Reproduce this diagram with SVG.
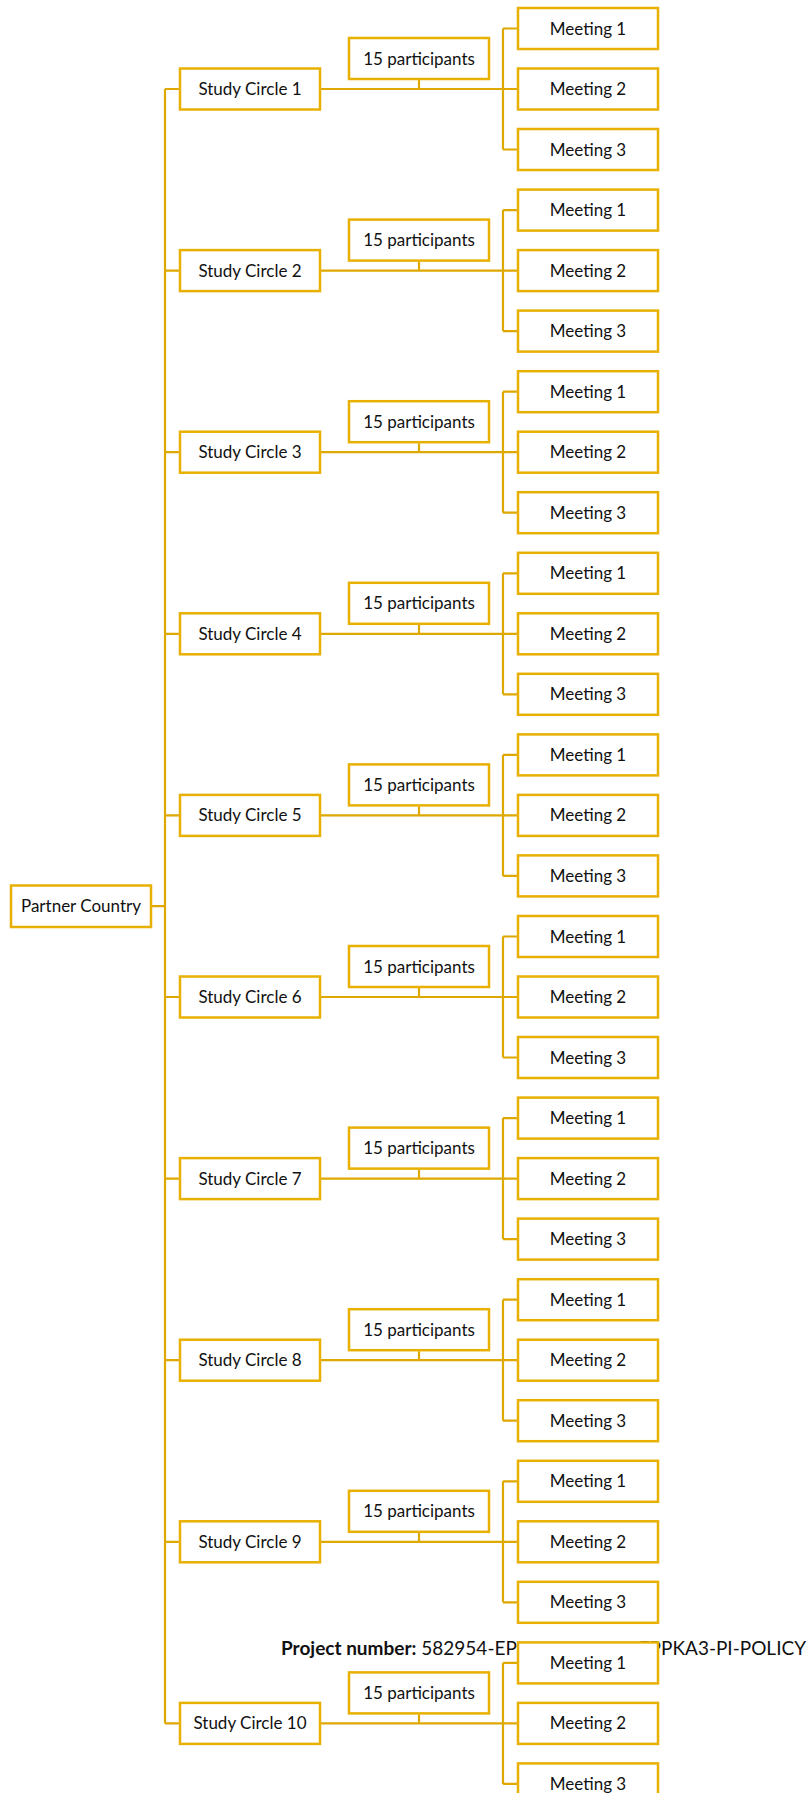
<svg xmlns="http://www.w3.org/2000/svg" width="809" height="1793" viewBox="0 0 809 1793">
<style>
.box{fill:#fff;stroke:#E8B000;stroke-width:2.5}
.con{fill:none;stroke:#DEA800;stroke-width:2.2}
.t{font-family:Lato,"Open Sans",sans-serif;font-size:17px;fill:#111;text-anchor:middle}
.p{font-family:Lato,"Open Sans",sans-serif;font-size:19px;fill:#111}
</style>
<rect width="809" height="1793" fill="#fff"/>
<text class="p" x="281" y="1655"><tspan font-weight="bold">Project number:</tspan> 582954-EP</text>
<text class="p" x="806" y="1655" text-anchor="end">EPPKA3-PI-POLICY</text>
<g id="connectors">
<path class="con" d="M151 906.2H165M165 89V1723.4"/>
<path class="con" transform="translate(0,89)" d="M165 0H180M321 0H503M419 -9V0M503 -60.5V60.5M503 -60.5H518M503 0H518M503 60.5H518"/>
<path class="con" transform="translate(0,270.6)" d="M165 0H180M321 0H503M419 -9V0M503 -60.5V60.5M503 -60.5H518M503 0H518M503 60.5H518"/>
<path class="con" transform="translate(0,452.2)" d="M165 0H180M321 0H503M419 -9V0M503 -60.5V60.5M503 -60.5H518M503 0H518M503 60.5H518"/>
<path class="con" transform="translate(0,633.8)" d="M165 0H180M321 0H503M419 -9V0M503 -60.5V60.5M503 -60.5H518M503 0H518M503 60.5H518"/>
<path class="con" transform="translate(0,815.4)" d="M165 0H180M321 0H503M419 -9V0M503 -60.5V60.5M503 -60.5H518M503 0H518M503 60.5H518"/>
<path class="con" transform="translate(0,997)" d="M165 0H180M321 0H503M419 -9V0M503 -60.5V60.5M503 -60.5H518M503 0H518M503 60.5H518"/>
<path class="con" transform="translate(0,1178.6)" d="M165 0H180M321 0H503M419 -9V0M503 -60.5V60.5M503 -60.5H518M503 0H518M503 60.5H518"/>
<path class="con" transform="translate(0,1360.2)" d="M165 0H180M321 0H503M419 -9V0M503 -60.5V60.5M503 -60.5H518M503 0H518M503 60.5H518"/>
<path class="con" transform="translate(0,1541.8)" d="M165 0H180M321 0H503M419 -9V0M503 -60.5V60.5M503 -60.5H518M503 0H518M503 60.5H518"/>
<path class="con" transform="translate(0,1723.4)" d="M165 0H180M321 0H503M419 -9V0M503 -60.5V60.5M503 -60.5H518M503 0H518M503 60.5H518"/>
</g>
<g id="partner"><rect class="box" x="11" y="885.5" width="140" height="41.5"/><text class="t" x="81" y="912.3">Partner Country</text></g>

<g transform="translate(0,89)">
<g id="sc1"><rect class="box" x="180" y="-20.5" width="140" height="41"/><text class="t" x="250" y="6">Study Circle 1</text></g>
<g id="p1"><rect class="box" x="349" y="-51" width="140" height="41"/><text class="t" x="419" y="-24.5">15 participants</text></g>
<g id="m1-1"><rect class="box" x="518" y="-81" width="140" height="41"/><text class="t" x="588" y="-54.5">Meeting 1</text></g>
<g id="m1-2"><rect class="box" x="518" y="-20.5" width="140" height="41"/><text class="t" x="588" y="6">Meeting 2</text></g>
<g id="m1-3"><rect class="box" x="518" y="40" width="140" height="41"/><text class="t" x="588" y="66.5">Meeting 3</text></g>
</g>
<g transform="translate(0,270.6)">
<g id="sc2"><rect class="box" x="180" y="-20.5" width="140" height="41"/><text class="t" x="250" y="6">Study Circle 2</text></g>
<g id="p2"><rect class="box" x="349" y="-51" width="140" height="41"/><text class="t" x="419" y="-24.5">15 participants</text></g>
<g id="m2-1"><rect class="box" x="518" y="-81" width="140" height="41"/><text class="t" x="588" y="-54.5">Meeting 1</text></g>
<g id="m2-2"><rect class="box" x="518" y="-20.5" width="140" height="41"/><text class="t" x="588" y="6">Meeting 2</text></g>
<g id="m2-3"><rect class="box" x="518" y="40" width="140" height="41"/><text class="t" x="588" y="66.5">Meeting 3</text></g>
</g>
<g transform="translate(0,452.2)">
<g id="sc3"><rect class="box" x="180" y="-20.5" width="140" height="41"/><text class="t" x="250" y="6">Study Circle 3</text></g>
<g id="p3"><rect class="box" x="349" y="-51" width="140" height="41"/><text class="t" x="419" y="-24.5">15 participants</text></g>
<g id="m3-1"><rect class="box" x="518" y="-81" width="140" height="41"/><text class="t" x="588" y="-54.5">Meeting 1</text></g>
<g id="m3-2"><rect class="box" x="518" y="-20.5" width="140" height="41"/><text class="t" x="588" y="6">Meeting 2</text></g>
<g id="m3-3"><rect class="box" x="518" y="40" width="140" height="41"/><text class="t" x="588" y="66.5">Meeting 3</text></g>
</g>
<g transform="translate(0,633.8)">
<g id="sc4"><rect class="box" x="180" y="-20.5" width="140" height="41"/><text class="t" x="250" y="6">Study Circle 4</text></g>
<g id="p4"><rect class="box" x="349" y="-51" width="140" height="41"/><text class="t" x="419" y="-24.5">15 participants</text></g>
<g id="m4-1"><rect class="box" x="518" y="-81" width="140" height="41"/><text class="t" x="588" y="-54.5">Meeting 1</text></g>
<g id="m4-2"><rect class="box" x="518" y="-20.5" width="140" height="41"/><text class="t" x="588" y="6">Meeting 2</text></g>
<g id="m4-3"><rect class="box" x="518" y="40" width="140" height="41"/><text class="t" x="588" y="66.5">Meeting 3</text></g>
</g>
<g transform="translate(0,815.4)">
<g id="sc5"><rect class="box" x="180" y="-20.5" width="140" height="41"/><text class="t" x="250" y="6">Study Circle 5</text></g>
<g id="p5"><rect class="box" x="349" y="-51" width="140" height="41"/><text class="t" x="419" y="-24.5">15 participants</text></g>
<g id="m5-1"><rect class="box" x="518" y="-81" width="140" height="41"/><text class="t" x="588" y="-54.5">Meeting 1</text></g>
<g id="m5-2"><rect class="box" x="518" y="-20.5" width="140" height="41"/><text class="t" x="588" y="6">Meeting 2</text></g>
<g id="m5-3"><rect class="box" x="518" y="40" width="140" height="41"/><text class="t" x="588" y="66.5">Meeting 3</text></g>
</g>
<g transform="translate(0,997)">
<g id="sc6"><rect class="box" x="180" y="-20.5" width="140" height="41"/><text class="t" x="250" y="6">Study Circle 6</text></g>
<g id="p6"><rect class="box" x="349" y="-51" width="140" height="41"/><text class="t" x="419" y="-24.5">15 participants</text></g>
<g id="m6-1"><rect class="box" x="518" y="-81" width="140" height="41"/><text class="t" x="588" y="-54.5">Meeting 1</text></g>
<g id="m6-2"><rect class="box" x="518" y="-20.5" width="140" height="41"/><text class="t" x="588" y="6">Meeting 2</text></g>
<g id="m6-3"><rect class="box" x="518" y="40" width="140" height="41"/><text class="t" x="588" y="66.5">Meeting 3</text></g>
</g>
<g transform="translate(0,1178.6)">
<g id="sc7"><rect class="box" x="180" y="-20.5" width="140" height="41"/><text class="t" x="250" y="6">Study Circle 7</text></g>
<g id="p7"><rect class="box" x="349" y="-51" width="140" height="41"/><text class="t" x="419" y="-24.5">15 participants</text></g>
<g id="m7-1"><rect class="box" x="518" y="-81" width="140" height="41"/><text class="t" x="588" y="-54.5">Meeting 1</text></g>
<g id="m7-2"><rect class="box" x="518" y="-20.5" width="140" height="41"/><text class="t" x="588" y="6">Meeting 2</text></g>
<g id="m7-3"><rect class="box" x="518" y="40" width="140" height="41"/><text class="t" x="588" y="66.5">Meeting 3</text></g>
</g>
<g transform="translate(0,1360.2)">
<g id="sc8"><rect class="box" x="180" y="-20.5" width="140" height="41"/><text class="t" x="250" y="6">Study Circle 8</text></g>
<g id="p8"><rect class="box" x="349" y="-51" width="140" height="41"/><text class="t" x="419" y="-24.5">15 participants</text></g>
<g id="m8-1"><rect class="box" x="518" y="-81" width="140" height="41"/><text class="t" x="588" y="-54.5">Meeting 1</text></g>
<g id="m8-2"><rect class="box" x="518" y="-20.5" width="140" height="41"/><text class="t" x="588" y="6">Meeting 2</text></g>
<g id="m8-3"><rect class="box" x="518" y="40" width="140" height="41"/><text class="t" x="588" y="66.5">Meeting 3</text></g>
</g>
<g transform="translate(0,1541.8)">
<g id="sc9"><rect class="box" x="180" y="-20.5" width="140" height="41"/><text class="t" x="250" y="6">Study Circle 9</text></g>
<g id="p9"><rect class="box" x="349" y="-51" width="140" height="41"/><text class="t" x="419" y="-24.5">15 participants</text></g>
<g id="m9-1"><rect class="box" x="518" y="-81" width="140" height="41"/><text class="t" x="588" y="-54.5">Meeting 1</text></g>
<g id="m9-2"><rect class="box" x="518" y="-20.5" width="140" height="41"/><text class="t" x="588" y="6">Meeting 2</text></g>
<g id="m9-3"><rect class="box" x="518" y="40" width="140" height="41"/><text class="t" x="588" y="66.5">Meeting 3</text></g>
</g>
<g transform="translate(0,1723.4)">
<g id="sc10"><rect class="box" x="180" y="-20.5" width="140" height="41"/><text class="t" x="250" y="6">Study Circle 10</text></g>
<g id="p10"><rect class="box" x="349" y="-51" width="140" height="41"/><text class="t" x="419" y="-24.5">15 participants</text></g>
<g id="m10-1"><rect class="box" x="518" y="-81" width="140" height="41"/><text class="t" x="588" y="-54.5">Meeting 1</text></g>
<g id="m10-2"><rect class="box" x="518" y="-20.5" width="140" height="41"/><text class="t" x="588" y="6">Meeting 2</text></g>
<g id="m10-3"><rect class="box" x="518" y="40" width="140" height="41"/><text class="t" x="588" y="66.5">Meeting 3</text></g>
</g>
</svg>
